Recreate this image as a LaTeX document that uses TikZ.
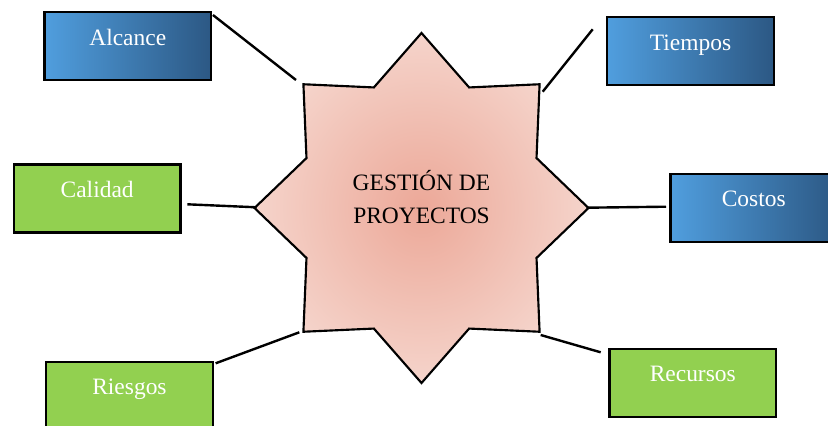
\documentclass[tikz,border=0pt]{standalone}
\usepackage{fontspec}
\setmainfont{Liberation Serif}
\definecolor{boxblueL}{RGB}{80,158,222}
\definecolor{boxblueR}{RGB}{44,88,132}
\definecolor{boxgreen}{RGB}{146,208,80}
\definecolor{starC}{RGB}{236,168,152}
\definecolor{starE}{RGB}{245,212,203}
\begin{document}
\begin{tikzpicture}[x=0.75pt, y=-0.75pt,
  box/.style={draw=black, line width=1.8pt, anchor=north west,
    minimum width=124.9pt, inner xsep=0pt, inner ysep=0pt,
    text height=24.75pt, text depth=26.25pt, text=white,
    font=\fontsize{17.6}{21}\selectfont},
  bluebox/.style={box, left color=boxblueL, right color=boxblueR},
  greenbox/.style={box, fill=boxgreen},
  link/.style={line width=1.8pt}]

\useasboundingbox (0,0) rectangle (828,425);

% Draw the star
\begin{scope}[shift={(421.5,208)}]
\shade[draw=black, line width=1.6pt, line join=miter, inner color=starC, outer color=starE]
  (90:167 and 175)
  \foreach \a in {90,135,...,360} { -- ({\a+22.5}:124.5 and 130.5) -- ({\a+45}:167 and 175) }
  -- (427.5:124.5 and 130.5) -- cycle;
\end{scope}
\node[align=center, font=\fontsize{17.6}{25.1}\selectfont] (centro) at (421.5,197) {GESTIÓN DE\\PROYECTOS};

% Points on the star
\coordinate (s-nw) at (296,80);
\coordinate (s-ne) at (542.7,91.7);
\coordinate (s-w) at (256.7,207.3);
\coordinate (s-e) at (586.7,207.7);
\coordinate (s-sw) at (299.3,332.3);
\coordinate (s-se) at (540.7,335);

% Draw the boxes
\node[bluebox] (alcance) at (43.3,11) {Alcance};
\node[bluebox] (tiempos) at (606,16) {Tiempos};
\node[bluebox] (costos) at (669.3,172.7) {Costos};
\node[greenbox] (calidad) at (12.7,163.3) {Calidad};
\node[greenbox] (riesgos) at (45,360.7) {Riesgos};
\node[greenbox] (recursos) at (608.3,347.7) {Recursos};

% Free ends of the links
\coordinate (t-end) at (592.7,29.3);
\coordinate (c-end) at (666,206.7);
\coordinate (q-end) at (187.3,204.3);
\coordinate (r-end) at (600.7,352.3);

% Draw the links
\draw[link] (alcance.north east) ++(0.7,4) -- (s-nw);
\draw[link] (t-end) -- (s-ne);
\draw[link] (s-e) -- (c-end);
\draw[link] (q-end) -- (s-w);
\draw[link] (riesgos.north east) ++(1.7,2.6) -- (s-sw);
\draw[link] (s-se) -- (r-end);

\end{tikzpicture}
\end{document}
